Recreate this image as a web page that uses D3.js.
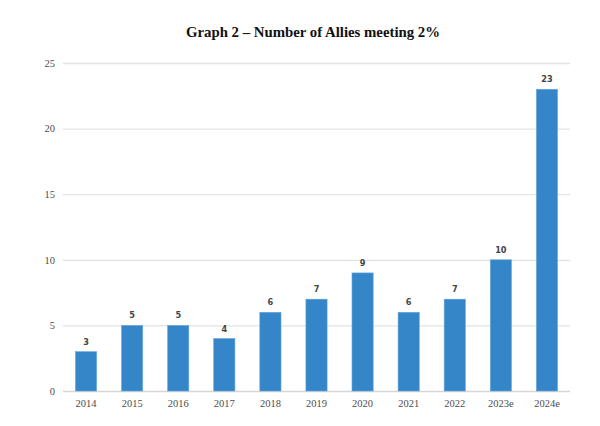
<!DOCTYPE html>
<html>
<head>
<meta charset="utf-8">
<script src="https://cdn.jsdelivr.net/npm/d3@7"></script>
<style>
  body { margin: 0; background: #fff; }
</style>
</head>
<body>
<div id="chart"></div>
<script>
var years = ['2014', '2015', '2016', '2017', '2018', '2019', '2020', '2021', '2022', '2023e', '2024e'];
var allies = [3, 5, 5, 4, 6, 7, 9, 6, 7, 10, 23];
var yTicks = [0, 5, 10, 15, 20, 25];

var W = 600, H = 426;
// plot edges (note: "top" is taken by window.top)
var plotLeft = 63, plotRight = 570, plotTop = 63, plotBottom = 391;

var svg = d3.select('#chart').append('svg')
  .attr('width', W)
  .attr('height', H);

// title
svg.append('text')
  .attr('x', 313)
  .attr('y', 37)
  .attr('text-anchor', 'middle')
  .attr('font-family', 'Liberation Serif, serif')
  .attr('font-weight', 'bold')
  .attr('font-size', 14.8)
  .attr('fill', '#111')
  .text('Graph 2 \u2013 Number of Allies meeting 2%');

var x = d3.scaleBand().domain(years).range([plotLeft, plotRight]).paddingInner(0.54).paddingOuter(0.27);
var y = d3.scaleLinear().domain([0, 25]).range([plotBottom, plotTop]);

// grid
svg.append('g')
  .selectAll('line')
  .data(yTicks)
  .join('line')
  .attr('x1', plotLeft)
  .attr('x2', plotRight)
  .attr('y1', function(d){ return y(d) + 0.5; })
  .attr('y2', function(d){ return y(d) + 0.5; })
  .attr('stroke', function(d){ return d == 0 ? '#d6d6d6' : '#e3e3e3'; })
  .attr('stroke-width', 1.3);

// y axis labels
var yAxis = d3.axisLeft(y).tickValues(yTicks).tickSize(0).tickPadding(8);
var gy = svg.append('g').attr('transform', 'translate(' + plotLeft + ',0)').call(yAxis);
gy.select('.domain').remove();
gy.selectAll('text')
  .attr('font-family', 'Liberation Serif, serif')
  .attr('font-size', 10.5)
  .attr('fill', '#4d4d4d');

// x axis labels
var xAxis = d3.axisBottom(x).tickSize(0).tickPadding(9);
var gx = svg.append('g').attr('transform', 'translate(0,' + plotBottom + ')').call(xAxis);
gx.select('.domain').remove();
gx.selectAll('text')
  .attr('font-family', 'Liberation Serif, serif')
  .attr('font-size', 10.5)
  .attr('fill', '#4d4d4d');

// bars
svg.append('g')
  .selectAll('rect')
  .data(allies)
  .join('rect')
  .attr('x', function(d, i){ return x(years[i]); })
  .attr('y', function(d){ return y(d); })
  .attr('width', x.bandwidth())
  .attr('height', function(d){ return y(0) - y(d); })
  .attr('fill', '#3586c9')
  .attr('stroke', '#6aa7d9')
  .attr('stroke-width', 0.6);

// value labels
svg.append('g')
  .selectAll('text')
  .data(allies)
  .join('text')
  .attr('x', function(d, i){ return x(years[i]) + x.bandwidth() / 2; })
  .attr('y', function(d){ return y(d) - 7; })
  .attr('text-anchor', 'middle')
  .attr('font-family', 'DejaVu Sans, sans-serif')
  .attr('font-weight', 'bold')
  .attr('font-size', 8.2)
  .attr('fill', '#444')
  .text(function(d){ return d; });
</script>
</body>
</html>
